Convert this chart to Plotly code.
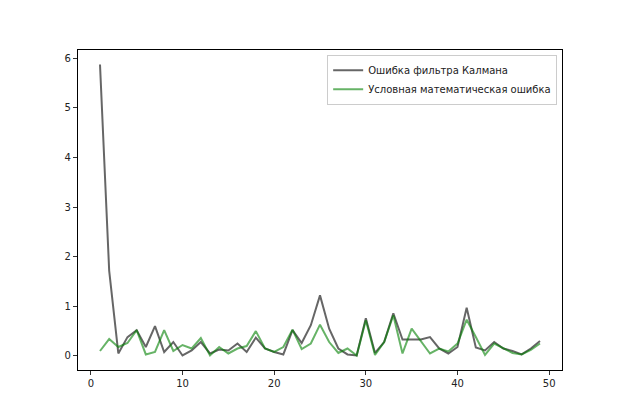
import plotly.graph_objects as go

steps = list(range(1, 50))
kalman_error = [5.87, 1.72, 0.05, 0.38, 0.52, 0.18, 0.60, 0.08, 0.28, 0.01,
                0.11, 0.28, 0.05, 0.13, 0.11, 0.25, 0.08, 0.37, 0.15, 0.08,
                0.03, 0.52, 0.26, 0.62, 1.22, 0.55, 0.15, 0.03, 0.01, 0.76,
                0.06, 0.28, 0.86, 0.33, 0.33, 0.33, 0.38, 0.15, 0.05, 0.18,
                0.97, 0.17, 0.11, 0.28, 0.15, 0.10, 0.03, 0.15, 0.30]
math_error = [0.10, 0.34, 0.18, 0.26, 0.52, 0.03, 0.08, 0.52, 0.10, 0.22,
              0.15, 0.36, 0.01, 0.18, 0.05, 0.15, 0.20, 0.50, 0.15, 0.08,
              0.18, 0.53, 0.14, 0.25, 0.63, 0.28, 0.06, 0.15, 0.01, 0.72,
              0.02, 0.28, 0.82, 0.05, 0.55, 0.30, 0.05, 0.15, 0.09, 0.25,
              0.73, 0.38, 0.02, 0.25, 0.15, 0.06, 0.03, 0.12, 0.25]
names = ["Ошибка фильтра Калмана", "Условная математическая ошибка"]

fig = go.Figure()
fig.add_trace(go.Scatter(x=steps, y=kalman_error, mode="lines", name=names[0],
                         line=dict(color="rgba(0,0,0,0.6)", width=2)))
fig.add_trace(go.Scatter(x=steps, y=math_error, mode="lines", name=names[1],
                         line=dict(color="rgba(0,128,0,0.6)", width=2)))

xmin, xmax = min(steps), max(steps)
xm = (xmax - xmin) * 0.05
allv = kalman_error + math_error
ymin, ymax = min(allv), max(allv)
ym = (ymax - ymin) * 0.05

axis_common = dict(showgrid=False, zeroline=False, showline=True, linecolor="black",
                   linewidth=1.2, mirror=True, ticks="outside", ticklen=4,
                   tickcolor="#333333", tickfont=dict(size=10, color="#222222"))
fig.update_xaxes(range=[xmin - xm, xmax + xm], tickvals=[0, 10, 20, 30, 40, 50], **axis_common)
fig.update_yaxes(range=[ymin - ym, ymax + ym], tickvals=[0, 1, 2, 3, 4, 5, 6], **axis_common)

fig.update_layout(
    width=616, height=408,
    margin=dict(l=70, r=62, t=42, b=46),
    paper_bgcolor="white", plot_bgcolor="white",
    font=dict(family="DejaVu Sans", size=10, color="#222222"),
    legend=dict(x=0.99, xanchor="right", y=0.985, yanchor="top",
                bgcolor="rgba(255,255,255,0.8)", bordercolor="#cccccc", borderwidth=1,
                font=dict(size=10), tracegroupgap=0),
    showlegend=True,
)

fig.write_html("out.html")
